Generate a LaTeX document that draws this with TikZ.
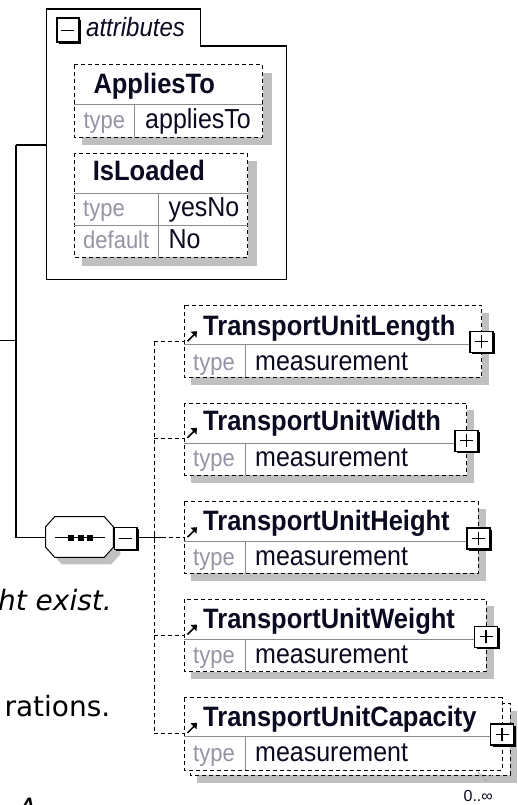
\documentclass[tikz,border=0pt]{standalone}
\usepackage{graphicx}
\usepackage{fontspec}
\setmainfont{Liberation Sans}
\newfontfamily\dejavu{DejaVu Sans}
\usetikzlibrary{arrows.meta}
\definecolor{shadowgray}{HTML}{C0C0C0}
\definecolor{sepgray}{HTML}{8C8C8C}
\definecolor{labelgray}{HTML}{9494A4}
\definecolor{txtdark}{HTML}{0A0A20}
\newcommand{\ys}[1]{\scalebox{1}[1.1]{#1}}
\tikzset{
  dbox/.style={draw=black, dash pattern=on 4pt off 3pt, line width=1pt, fill=white},
  sepline/.style={draw=sepgray, line width=1pt},
  tree/.style={draw=black, line width=1.3pt},
  conn/.style={draw=black, dash pattern=on 4pt off 3pt, line width=1pt},
  ttl/.style={anchor=base west, inner sep=0pt, text=txtdark, font=\fontsize{25.5}{30}\selectfont\bfseries},
  lbl/.style={anchor=base west, inner sep=0pt, text=labelgray, font=\fontsize{22}{26}\selectfont},
  val/.style={anchor=base west, inner sep=0pt, text=txtdark, font=\fontsize{25}{30}\selectfont},
  bigtxt/.style={inner sep=0pt, text=black, font=\fontsize{28}{34}\selectfont\dejavu},
}
% small +/- square: name, x1, y1, x2, y2, 1=plus 0=minus
\newcommand{\xsq}[6]{%
  \fill[black] ({#2+2},{#3+2}) rectangle ({#4+2},{#5+2});
  \draw[fill=white, line width=1.6pt] (#2,#3) rectangle (#4,#5);
  \coordinate (#1) at ({(#2+#4)/2},{(#3+#5)/2});
  \draw[line width=1.3pt] ([xshift=-6.5pt]#1) -- ([xshift=6.5pt]#1);
  \ifnum#6=1 \draw[line width=1.3pt] ([yshift=-6.5pt]#1) -- ([yshift=6.5pt]#1);\fi
}
% element box: id, top, sep, bottom, right, title baseline, row baseline, connector y, title
\newcommand{\elem}[9]{%
  \draw[dbox] (184.3,#2) rectangle (#5,#4);
  \draw[sepline] (184.3,#3) -- (#5,#3);
  \draw[sepline] (245,#3) -- (245,#4);
  \node[ttl] (#1t) at (203,#6) {\ys{#9}};
  \node[lbl] (#1l) at (193,#7) {\ys{type}};
  \node[val] (#1v) at (255,#7) {\ys{measurement}};
  \coordinate (#1in) at (184.3,#8);
  \coordinate (#1ic) at (187.5,{#8-0.5});
  \coordinate (#1id) at (194,{#8-7});
  \draw[line width=1.5pt] (#1ic) -- (#1id);
  \fill[black] (197,{#8-10.5}) -- (190.5,{#8-10}) -- (196.5,{#8-4}) -- cycle;
  \xsq{#1p}{#5-11.5}{#3-13}{#5+11.5}{#3+8}{1}
}
\begin{document}
\begin{tikzpicture}[x=1pt,y=-1pt]
\useasboundingbox (0,0) rectangle (517,805);

% ---------- background text (cut off at the picture edge, as in the reference) ----------
\node[bigtxt, anchor=base east, font=\fontsize{28}{34}\selectfont\dejavu\itshape] (t1) at (112,610) {ht exist.};
\node[bigtxt, anchor=base east] (t2) at (110.5,716.7) {rations.};
\node[bigtxt, anchor=base west, font=\fontsize{28}{34}\selectfont\dejavu\itshape] (t3) at (17.5,818.5) {A};

% ---------- attributes container ----------
\draw[tree, fill=white] (46.7,279.3) -- (46.7,9) -- (200.7,9) -- (200.7,46) -- (286.7,46) -- (286.7,279.3) -- cycle;
\xsq{attrm}{56.7}{18.3}{79}{42.3}{0}
\node[anchor=base west, inner sep=0pt, text=txtdark, font=\fontsize{24}{28}\selectfont\itshape] (attrt) at (86,36.7) {\ys{attributes}};

% AppliesTo
\fill[shadowgray] (82,73) rectangle (271.7,145);
\draw[dbox] (74.3,65) rectangle (262.7,137.3);
\draw[sepline] (74.3,105) -- (262.7,105);
\draw[sepline] (134.3,105) -- (134.3,137.3);
\node[ttl] (apt) at (93.3,93.3) {\ys{AppliesTo}};
\node[lbl] (apl) at (83.3,128.3) {\ys{type}};
\node[val] (apv) at (145,128.3) {\ys{appliesTo}};

% IsLoaded
\fill[shadowgray] (82,161.3) rectangle (256.7,266);
\draw[dbox] (74,153.3) rectangle (247.5,257.3);
\draw[sepline] (74,193.3) -- (247.5,193.3);
\draw[sepline] (74,225.7) -- (247.5,225.7);
\draw[sepline] (158.3,193.3) -- (158.3,257.3);
\node[ttl] (ilt) at (92.7,180) {\ys{IsLoaded}};
\node[lbl] (ill1) at (83,216.7) {\ys{type}};
\node[val] (ilv1) at (168.3,216.7) {\ys{yesNo}};
\node[lbl] (ill2) at (83,248.3) {\ys{default}};
\node[val] (ilv2) at (168.3,248.3) {\ys{No}};

% ---------- tree lines ----------
\coordinate (root) at (0,340.7);
\coordinate (rj) at (16,340.7);
\coordinate (ja) at (16,145);
\coordinate (js) at (16,537.7);
\coordinate (attrin) at (46.7,145);
\coordinate (seqin) at (45.7,537.7);
\draw[tree] (root) -- (rj);
\draw[tree] (ja) -- (js);
\draw[tree] (ja) -- (attrin);
\draw[tree] (js) -- (seqin);

% ---------- sequence compositor ----------
\fill[shadowgray] (61.7,524.7) -- (112.3,524.7) -- (120.3,534.7) -- (120.3,554.3) -- (111.3,564.3) -- (61.7,564.3) -- (52.7,554.3) -- (52.7,534.7) -- cycle;
\draw[line width=1pt, fill=white] (54.7,516.7) -- (104.3,516.7) -- (113.3,526.7) -- (113.3,547.3) -- (104.3,557.3) -- (54.7,557.3) -- (45.7,547.3) -- (45.7,526.7) -- cycle;
\coordinate (seqc) at (80,537.7);
\draw[line width=1.2pt] (55,537.7) -- (105,537.7);
\foreach \cx in {71,80.7,90.3} { \fill[black] (\cx-3,534.7) rectangle (\cx+3,540.7); }
\xsq{seqm}{114.3}{527.3}{136.7}{549.3}{0}

% ---------- element shadows ----------
\fill[shadowgray] (191.3,312.7) rectangle (489,384.7);
\fill[shadowgray] (191.3,410.3) rectangle (474,482.5);
\fill[shadowgray] (191.3,508.7) rectangle (486,580.7);
\fill[shadowgray] (191.3,606.3) rectangle (494,679.2);
\fill[shadowgray] (196.5,710.5) rectangle (517,783);

% element 5 back box
\draw[dbox] (190,703) rectangle (510,775);

% ---------- elements ----------
\elem{e1}{305}{344.3}{377.3}{481.7}{335}{370}{341.7}{TransportUnitLength}
\elem{e2}{403.3}{443.3}{475}{466.7}{430}{466.7}{438.3}{TransportUnitWidth}
\elem{e3}{501.7}{541}{573.3}{478.3}{530}{565}{537.7}{TransportUnitHeight}
\elem{e4}{599.3}{639.3}{671.7}{486}{628.3}{663.3}{635}{TransportUnitWeight}
\elem{e5}{697.7}{736.7}{770}{502}{726}{761.7}{733.3}{TransportUnitCapacity}

% cardinality
\draw[draw=shadowgray!70!gray, line width=1pt] (478,772) -- (486,781) -- (492,775);
\node[anchor=base east, inner sep=0pt, text=txtdark, font=\fontsize{16}{19}\selectfont] (card) at (493,801) {0..∞};

% ---------- connectors ----------
\coordinate (v1) at (154,341.7);
\coordinate (v2) at (154,438.3);
\coordinate (v3) at (154,537.7);
\coordinate (v4) at (154,635);
\coordinate (v5) at (154,733.3);
\coordinate (seqout) at (136.7,537.7);
\coordinate (seqsolid) at (162,537.7);
\draw[conn] (v1) -- (v5);
\draw[conn] (v1) -- (e1in);
\draw[conn] (v2) -- (e2in);
\draw[conn] (v4) -- (e4in);
\draw[conn] (v5) -- (e5in);
\draw[line width=1pt] (seqout) -- (seqsolid);
\draw[conn] (seqsolid) -- (e3in);
\draw[line width=1pt] ([yshift=-5pt]v3) -- ([yshift=5pt]v3);
\end{tikzpicture}
\end{document}
